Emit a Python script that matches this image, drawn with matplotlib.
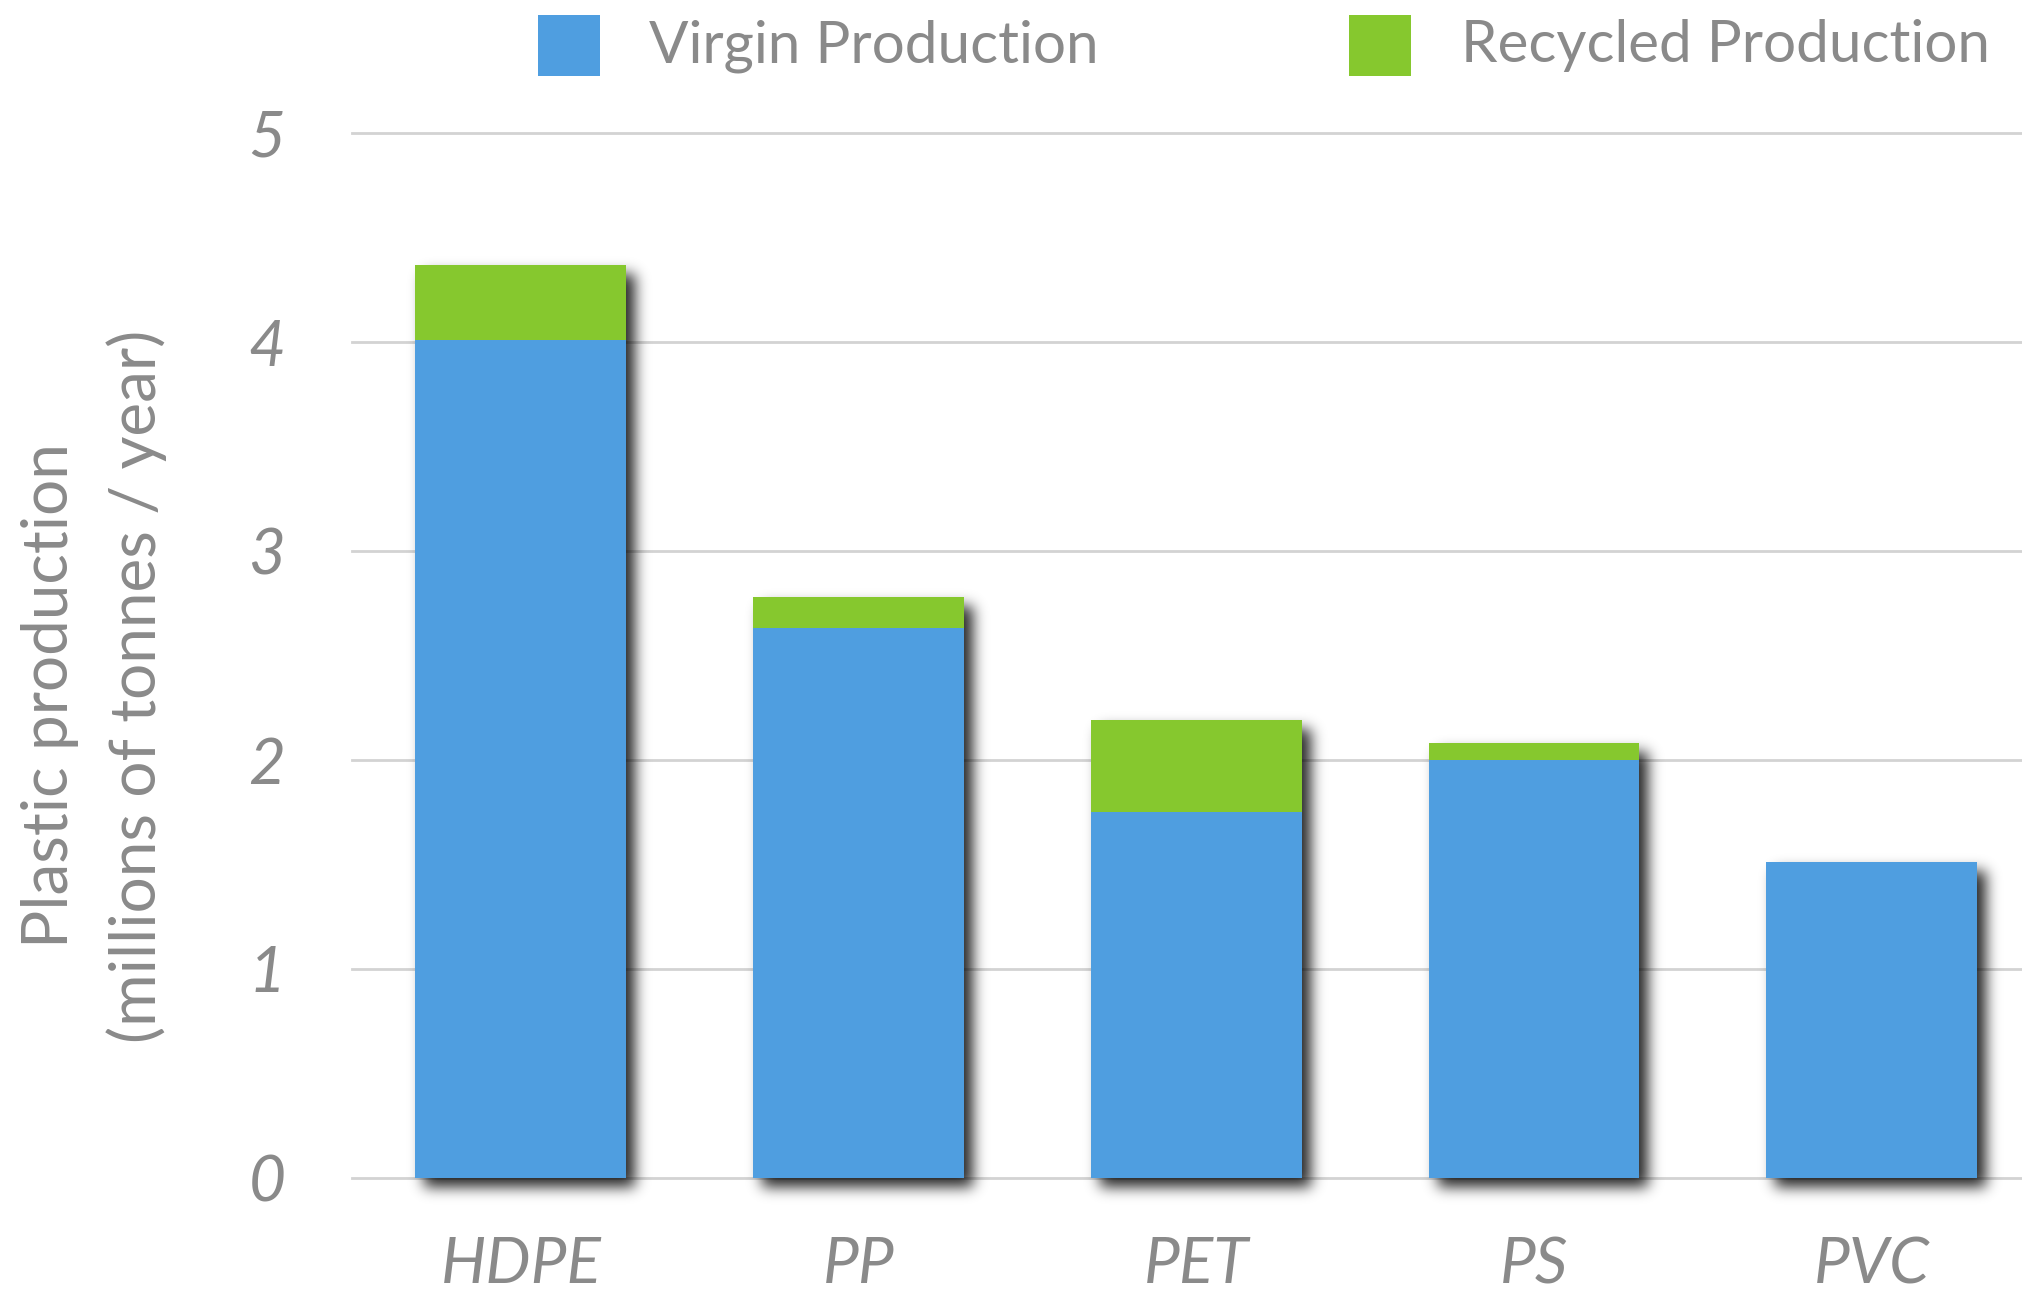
import numpy as np
import matplotlib
matplotlib.use("Agg")
import matplotlib.pyplot as plt
from matplotlib.patches import Rectangle

# ─── Données ──────────────────────────────────────────────────────────────────
categories = ["HDPE", "PP", "PET", "PS", "PVC"]
virgin     = [4.01, 2.63, 1.75, 2.00, 1.51]
recycled   = [0.36, 0.15, 0.44, 0.08, 0.00]
y_ticks    = [0, 1, 2, 3, 4, 5]

BLEU  = "#4F9EE0"
VERT  = "#86C82E"
GRIS  = "#8A8A8A"
GRILLE = "#D3D3D3"
FONT = "Lato"

DPI = 100
W, H = 2022, 1292


# ─── Ombre portée floue (agg_filter) ─────────────────────────────────────────
def flou_gauss(a, sigma):
    r = int(3 * sigma)
    x = np.arange(-r, r + 1)
    k = np.exp(-x ** 2 / (2 * sigma ** 2))
    k /= k.sum()
    a = np.apply_along_axis(lambda m: np.convolve(m, k, mode="same"), 0, a)
    a = np.apply_along_axis(lambda m: np.convolve(m, k, mode="same"), 1, a)
    return a


class OmbrePortee:
    def __init__(self, sigma=7, alpha=0.85, ox=9, oy=9):
        self.sigma, self.alpha, self.ox, self.oy = sigma, alpha, ox, oy

    def __call__(self, im, dpi):
        pad = int(3 * self.sigma) + max(self.ox, self.oy) + 2
        src = np.pad(im, [(pad, pad), (pad, pad), (0, 0)], "constant")
        a = flou_gauss(src[:, :, 3], self.sigma) * self.alpha
        a = np.roll(a, self.ox, axis=1)
        a = np.roll(a, self.oy, axis=0)
        out = np.zeros_like(src)
        out[:, :, 3] = np.clip(a, 0, 1)
        return out, -pad, -pad


# ─── Figure ──────────────────────────────────────────────────────────────────
fig = plt.figure(figsize=(W / DPI, H / DPI), dpi=DPI)
ax = fig.add_axes([352 / W, 1 - 1178 / H, 1 - 352 / W, (1178 - 133) / H])

x = np.arange(len(categories))
largeur = 0.624
totaux = np.array(virgin) + np.array(recycled)

# ombres
ombres = ax.bar(x, totaux, width=largeur, color="black", zorder=2)
for p in ombres:
    p.set_agg_filter(OmbrePortee())
    p.set_clip_on(False)

ax.bar(x, virgin, width=largeur, color=BLEU, zorder=3, linewidth=0)
ax.bar(x, recycled, width=largeur, bottom=virgin, color=VERT, zorder=3, linewidth=0)

ax.set_xlim(-0.5, 4.445)
ax.set_ylim(0, 5)

for yv in y_ticks:
    ax.axhline(yv, color=GRILLE, linewidth=2.0, zorder=1, clip_on=False)

for s in ax.spines.values():
    s.set_visible(False)
ax.tick_params(length=0)
ax.set_yticks(y_ticks)
ax.set_yticklabels([str(v) for v in y_ticks], fontsize=46, color=GRIS,
                   style="italic", family=FONT)
ax.tick_params(axis="y", pad=48)
ax.set_xticks(x)
ax.set_xticklabels(categories, fontsize=46, color=GRIS, style="italic", family=FONT)
ax.tick_params(axis="x", pad=42)

# titre de l'axe y (deux lignes)
fig.text(50 / W, 1 - 696 / H, "Plastic production", rotation=90,
         ha="center", va="center", fontsize=46, color=GRIS, family=FONT)
fig.text(137 / W, 1 - 686 / H, "(millions of tonnes / year)", rotation=90,
         ha="center", va="center", fontsize=46, color=GRIS, family=FONT)

# légende manuelle
for x0, couleur, texte, xt in [(538, BLEU, "Virgin Production", 649),
                               (1349, VERT, "Recycled Production", 1461)]:
    fig.add_artist(Rectangle((x0 / W, 1 - 76 / H), 62 / W, 61 / H,
                             transform=fig.transFigure, color=couleur, lw=0))
    fig.text(xt / W, 1 - 46 / H, texte, ha="left", va="center",
             fontsize=42, color=GRIS, family=FONT)

plt.savefig("out.png", dpi=DPI)
plt.close()
